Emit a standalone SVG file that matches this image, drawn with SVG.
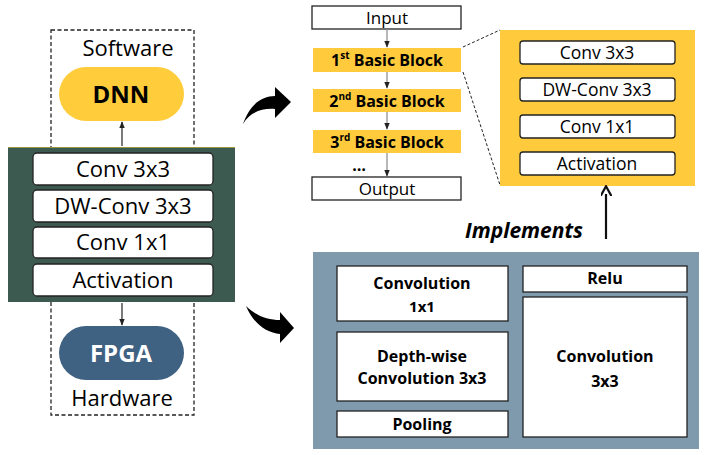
<svg xmlns="http://www.w3.org/2000/svg" width="706" height="455" viewBox="0 0 706 455">
<defs>
<style>
text{font-family:"Open Sans","Noto Sans","Liberation Sans",sans-serif;fill:#000;text-anchor:middle}
.wb{fill:#fff;stroke:#222;stroke-width:1.3}
.lbl{font-size:22px}
.sm{font-size:16px}
.md{font-size:17.5px}
.b{font-weight:bold}
.yb{fill:#FFCB3D}
.ln{stroke:#222;stroke-width:1.2;fill:none}
.gl{stroke:#888;stroke-width:1.2;fill:none}
.dash{stroke:#222;stroke-width:1.3;fill:none;stroke-dasharray:4,2.5}
</style>
<marker id="ah" viewBox="0 0 10 10" refX="9" refY="5" markerWidth="6" markerHeight="6" orient="auto"><path d="M0,1 L10,5 L0,9 Z" fill="#222"/></marker>
<marker id="ahb" viewBox="0 0 10 10" refX="2" refY="5" markerWidth="5" markerHeight="5" orient="auto"><path d="M0,0 L9,5 L0,10" fill="none" stroke="#111" stroke-width="2"/></marker>
</defs>
<rect width="706" height="455" fill="#fff"/>

<g id="sw-hw-frame">
<rect x="51" y="30" width="143" height="385" class="dash"/>
<text x="128" y="56" class="lbl">Software</text>
<text x="122" y="406" class="lbl">Hardware</text>
</g>

<g id="dnn">
<rect x="59" y="67" width="125" height="54" rx="27" fill="#FFCD3C"/>
<text x="121" y="103" class="b" font-size="24">DNN</text>
</g>

<g id="fpga">
<rect x="59" y="326" width="125" height="54" rx="27" fill="#3F6182"/>
<text x="121" y="362" class="b" font-size="24" style="fill:#fff">FPGA</text>
</g>

<g id="block-panel">
<rect x="8" y="147" width="227" height="155" fill="#3D5A50"/>
<line x1="8" y1="147.5" x2="235" y2="147.5" stroke="#9b9640" stroke-width="1.2"/>
<rect x="33" y="153" width="180" height="32" rx="4" class="wb"/>
<text x="123" y="177" class="lbl">Conv 3x3</text>
<rect x="33" y="190" width="180" height="32" rx="4" class="wb"/>
<text x="123" y="214" class="lbl">DW-Conv 3x3</text>
<rect x="33" y="227" width="180" height="31" rx="4" class="wb"/>
<text x="123" y="250" class="lbl">Conv 1x1</text>
<rect x="33" y="264" width="180" height="32" rx="4" class="wb"/>
<text x="123" y="288" class="lbl">Activation</text>
</g>

<g id="input"><rect x="312" y="6" width="149" height="23" class="wb"/><text x="387" y="24" font-size="17">Input</text></g>
<g id="block1"><rect x="313" y="48" width="148" height="24" class="yb"/><text x="387" y="66" class="sm b">1<tspan font-size="10" dy="-7">st</tspan><tspan dy="7"> Basic Block</tspan></text></g>
<g id="block2"><rect x="313" y="89" width="148" height="23" class="yb"/><text x="387" y="107" class="sm b">2<tspan font-size="10" dy="-7">nd</tspan><tspan dy="7"> Basic Block</tspan></text></g>
<g id="block3"><rect x="313" y="130" width="148" height="23" class="yb"/><text x="387" y="148" class="sm b">3<tspan font-size="10" dy="-7">rd</tspan><tspan dy="7"> Basic Block</tspan></text></g>
<g id="dots"><text x="359" y="171" class="sm b">…</text></g>
<g id="output"><rect x="312" y="177" width="149" height="23" class="wb"/><text x="387" y="195" font-size="17">Output</text></g>

<g id="block-detail">
<rect x="500" y="30" width="195" height="156" fill="#FFCB3D"/>
<rect x="520" y="41" width="155" height="23" rx="3" class="wb"/><text x="597" y="59" class="md">Conv 3x3</text>
<rect x="520" y="78" width="155" height="23" rx="3" class="wb"/><text x="597" y="96" class="md">DW-Conv 3x3</text>
<rect x="520" y="115" width="155" height="23" rx="3" class="wb"/><text x="597" y="133" class="md">Conv 1x1</text>
<rect x="520" y="152" width="155" height="23" rx="3" class="wb"/><text x="597" y="170" class="md">Activation</text>
</g>

<g id="fpga-impl">
<rect x="313" y="252" width="386" height="197" fill="#7F99AD"/>
<rect x="337" y="266" width="171" height="55" class="wb"/>
<text x="422" y="289" class="sm b">Convolution</text><text x="422" y="312" class="b" font-size="15">1x1</text>
<rect x="337" y="332" width="171" height="69" class="wb"/>
<text x="422" y="362" class="sm b">Depth-wise</text><text x="422" y="384" class="sm b">Convolution 3x3</text>
<rect x="337" y="411" width="171" height="26" class="wb"/>
<text x="422" y="430" class="sm b">Pooling</text>
<rect x="523" y="266" width="164" height="26" class="wb"/>
<text x="605" y="284" class="sm b">Relu</text>
<rect x="523" y="297" width="164" height="140" class="wb"/>
<text x="605" y="362" class="sm b">Convolution</text><text x="605" y="387" class="sm b">3x3</text>
</g>

<g id="implements-label"><text x="524" y="238" font-size="21" class="b" font-style="italic">Implements</text></g>

<g id="connectors">
<line x1="122" y1="146" x2="122" y2="122" class="ln" marker-end="url(#ah)"/>
<line x1="122" y1="303" x2="122" y2="325" class="ln" marker-end="url(#ah)"/>
<line x1="387" y1="29" x2="387" y2="47" class="gl" marker-end="url(#ah)"/>
<line x1="387" y1="72" x2="387" y2="88" class="gl" marker-end="url(#ah)"/>
<line x1="387" y1="112" x2="387" y2="129" class="gl" marker-end="url(#ah)"/>
<line x1="387" y1="153" x2="387" y2="176" class="gl" marker-end="url(#ah)"/>
<line x1="463" y1="47" x2="500" y2="30" stroke="#222" stroke-width="1" stroke-dasharray="3,2"/>
<line x1="463" y1="72" x2="500" y2="185" stroke="#222" stroke-width="1" stroke-dasharray="3,2"/>
<line x1="606" y1="239" x2="606" y2="194" stroke="#111" stroke-width="2.2" marker-end="url(#ahb)"/>
<path d="M243,124 C250,104 262,96 275,96 L275,87 L291,102 L275,118 L275,109 C262,108 250,112 243,124 Z" fill="#000"/>
<path d="M246,306 C256,316 268,320 280,320 L280,312 L294,328 L280,343 L280,334 C266,333 253,323 246,306 Z" fill="#000"/>
</g>
</svg>
